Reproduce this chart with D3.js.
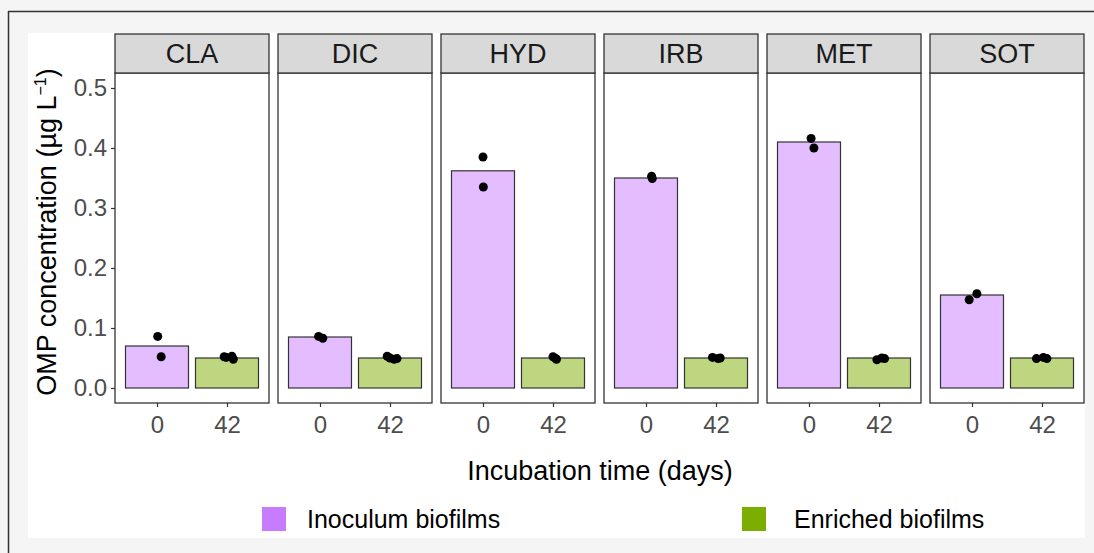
<!DOCTYPE html>
<html>
<head>
<meta charset="utf-8">
<script src="https://cdn.jsdelivr.net/npm/d3@7"></script>
<style>
  html, body { margin: 0; padding: 0; background: #f5f5f5; }
  svg { display: block; font-family: "Liberation Sans", Arial, sans-serif; }
</style>
</head>
<body>
<div id="chart"></div>
<script>
const compounds = ["CLA", "DIC", "HYD", "IRB", "MET", "SOT"];
const times = ["0", "42"];
const groups = ["Inoculum biofilms", "Enriched biofilms"];
const yTicks = [0.0, 0.1, 0.2, 0.3, 0.4, 0.5];

// mean bar heights (µg/L)
const inoculumMeans = [0.070, 0.085, 0.362, 0.350, 0.410, 0.155];
const enrichedMeans = [0.050, 0.050, 0.050, 0.050, 0.050, 0.050];

// replicate points: [value, jitter in category units]
const inoculumPoints = [
  [[0.086, 0.01], [0.052, 0.06]],
  [[0.086, -0.02], [0.083, 0.04]],
  [[0.385, 0.0], [0.335, 0.005]],
  [[0.353, 0.08], [0.349, 0.09]],
  [[0.416, 0.03], [0.400, 0.07]],
  [[0.147, -0.04], [0.157, 0.07]]
];
const enrichedPoints = [
  [[0.052, -0.04], [0.051, -0.01], [0.053, 0.07], [0.048, 0.09]],
  [[0.053, -0.04], [0.050, 0.0], [0.048, 0.06], [0.049, 0.1]],
  [[0.052, 0.0], [0.049, 0.04], [0.048, 0.05]],
  [[0.051, -0.05], [0.049, 0.03], [0.050, 0.06]],
  [[0.047, -0.03], [0.050, 0.04], [0.049, 0.08]],
  [[0.049, -0.08], [0.051, 0.02], [0.049, 0.07]]
];

const fillColors = ["#C77CFF", "#7CAE00"];

const W = 1094, H = 553;
const svg = d3.select("#chart").append("svg").attr("width", W).attr("height", H);

// background frame
svg.append("rect").attr("x", 0).attr("y", 0).attr("width", W).attr("height", H).attr("fill", "#f5f5f5");
svg.append("rect").attr("x", 28).attr("y", 33).attr("width", 1057).attr("height", 505).attr("fill", "#ffffff");
svg.append("line").attr("x1", 8).attr("x2", W).attr("y1", 11.5).attr("y2", 11.5).attr("stroke", "#333").attr("stroke-width", 1.5);
svg.append("line").attr("x1", 8.5).attr("x2", 8.5).attr("y1", 11).attr("y2", H).attr("stroke", "#333").attr("stroke-width", 1.5);

const panelLeft = 115, panelW = 154, panelGap = 9;
const stripTop = 34, stripH = 39;
const plotTop = stripTop + stripH, plotBottom = 403;

const y = d3.scaleLinear().domain([-0.025, 0.525]).range([plotBottom, plotTop]);
const x = d3.scaleLinear().domain([0.4, 2.6]).range([0, panelW]);
const barW = x(1.45) - x(1.0);

// y axis
const yAxis = svg.append("g").attr("transform", `translate(${panelLeft},0)`)
  .call(d3.axisLeft(y).tickValues(yTicks).tickFormat(d3.format(".1f")).tickSize(4).tickPadding(4));
yAxis.select(".domain").remove();
yAxis.selectAll("line").attr("stroke", "#333").attr("stroke-width", 1.2);
yAxis.selectAll("text").attr("fill", "#4d4d4d").style("font-size", "24px");

compounds.forEach((c, i) => {
  const g = svg.append("g").attr("transform", `translate(${panelLeft + i * (panelW + panelGap)},0)`);

  g.append("rect").attr("x", 0).attr("y", plotTop).attr("width", panelW).attr("height", plotBottom - plotTop)
    .attr("fill", "#fff");

  const means = [inoculumMeans[i], enrichedMeans[i]];
  g.selectAll("rect.bar").data(means).join("rect")
    .attr("class", "bar")
    .attr("x", (d, j) => x(j + 1) - barW)
    .attr("width", barW * 2)
    .attr("y", d => y(d))
    .attr("height", d => y(0) - y(d))
    .attr("fill", (d, j) => fillColors[j])
    .attr("fill-opacity", 0.5)
    .attr("stroke", "#333")
    .attr("stroke-width", 1.2);

  const pts = inoculumPoints[i].map(p => ({ v: p[0], j: p[1], k: 1 }))
    .concat(enrichedPoints[i].map(p => ({ v: p[0], j: p[1], k: 2 })));
  g.selectAll("circle").data(pts).join("circle")
    .attr("cx", d => x(d.k + d.j))
    .attr("cy", d => y(d.v))
    .attr("r", 4.5)
    .attr("fill", "#000");

  // panel border
  g.append("rect").attr("x", 0).attr("y", plotTop).attr("width", panelW).attr("height", plotBottom - plotTop)
    .attr("fill", "none").attr("stroke", "#333").attr("stroke-width", 1.3);

  // strip
  g.append("rect").attr("x", 0).attr("y", stripTop).attr("width", panelW).attr("height", stripH)
    .attr("fill", "#d9d9d9").attr("stroke", "#333").attr("stroke-width", 1.3);
  g.append("text").attr("x", panelW / 2).attr("y", stripTop + stripH / 2).attr("dy", "0.36em")
    .attr("text-anchor", "middle").attr("fill", "#1a1a1a").style("font-size", "27px").text(c);

  // x axis
  const xa = g.append("g").attr("transform", `translate(0,${plotBottom})`)
    .call(d3.axisBottom(x).tickValues([1, 2]).tickFormat((d) => times[d - 1]).tickSize(4).tickPadding(9));
  xa.select(".domain").remove();
  xa.selectAll("line").attr("stroke", "#333").attr("stroke-width", 1.2);
  xa.selectAll("text").attr("fill", "#4d4d4d").style("font-size", "24px");
});

// axis titles
svg.append("text").attr("transform", "translate(56,232) rotate(-90)")
  .attr("text-anchor", "middle").attr("fill", "#000").style("font-size", "27px")
  .html("OMP concentration (µg L<tspan dy='-10' font-size='16'>−1</tspan><tspan dy='10'>)</tspan>");

svg.append("text").attr("x", 600).attr("y", 470).attr("dy", "0.36em")
  .attr("text-anchor", "middle").attr("fill", "#000").style("font-size", "27px")
  .text("Incubation time (days)");

// legend
const legendX = [262, 742];
const legendTextX = [307, 794];
groups.forEach((name, j) => {
  svg.append("rect").attr("x", legendX[j]).attr("y", 507).attr("width", 24).attr("height", 24)
    .attr("fill", fillColors[j]);
  svg.append("text").attr("x", legendTextX[j]).attr("y", 519).attr("dy", "0.36em")
    .attr("fill", "#000").style("font-size", "25px").text(name);
});
</script>
</body>
</html>
